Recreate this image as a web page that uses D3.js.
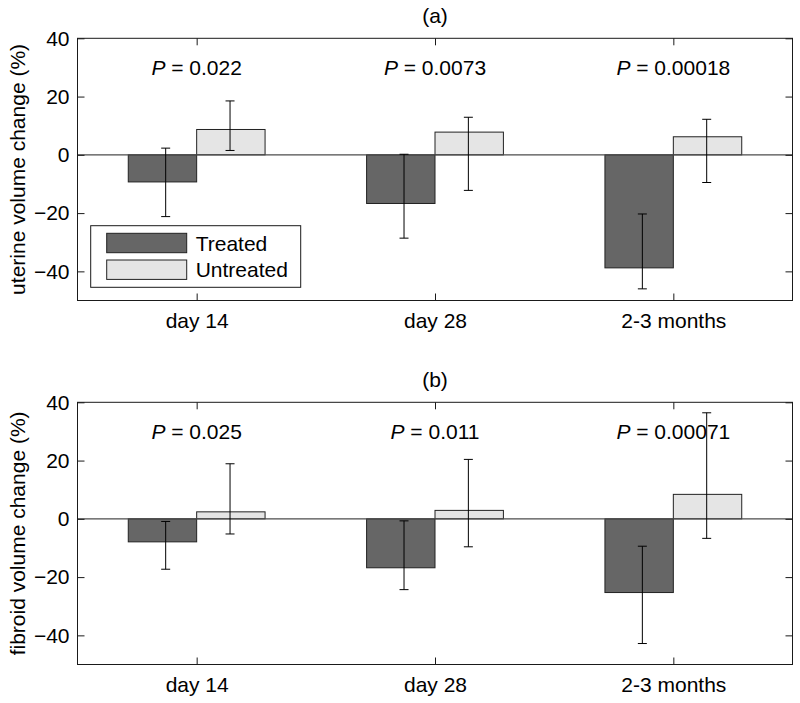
<!DOCTYPE html>
<html>
<head>
<meta charset="utf-8">
<script src="https://cdn.jsdelivr.net/npm/d3@7"></script>
<style>
  html, body { margin: 0; padding: 0; background: #fff; }
  svg { display: block; }
  text { font-family: "Liberation Sans", Arial, sans-serif; fill: #000; }
</style>
</head>
<body>
<svg id="chart" width="800" height="703"></svg>
<script>
// ---- data ----
const categories = ["day 14", "day 28", "2-3 months"];
const seriesNames = ["Treated", "Untreated"];
const yTicks = [-40, -20, 0, 20, 40];

// panel (a): uterine volume change (%)
const uterineTreated      = [-9.3, -16.7, -38.8];
const uterineTreatedLo    = [-21.2, -28.6, -46.0];
const uterineTreatedHi    = [2.3, 0.2, -20.3];
const uterineUntreated    = [8.7, 7.8, 6.2];
const uterineUntreatedLo  = [1.5, -12.2, -9.5];
const uterineUntreatedHi  = [18.5, 12.9, 12.2];
const uterinePValues      = ["0.022", "0.0073", "0.00018"];

// panel (b): fibroid volume change (%)
const fibroidTreated      = [-7.9, -16.8, -25.3];
const fibroidTreatedLo    = [-17.3, -24.3, -42.8];
const fibroidTreatedHi    = [-0.9, -0.7, -9.4];
const fibroidUntreated    = [2.4, 2.9, 8.4];
const fibroidUntreatedLo  = [-5.2, -9.6, -6.7];
const fibroidUntreatedHi  = [18.9, 20.4, 36.4];
const fibroidPValues      = ["0.025", "0.011", "0.00071"];

const panels = [
  { title: "(a)", ylabel: "uterine volume change (%)",
    treated: uterineTreated, tLo: uterineTreatedLo, tHi: uterineTreatedHi,
    untreated: uterineUntreated, uLo: uterineUntreatedLo, uHi: uterineUntreatedHi,
    p: uterinePValues, legend: true, top: 38.3, bottom: 300.5 },
  { title: "(b)", ylabel: "fibroid volume change (%)",
    treated: fibroidTreated, tLo: fibroidTreatedLo, tHi: fibroidTreatedHi,
    untreated: fibroidUntreated, uLo: fibroidUntreatedLo, uHi: fibroidUntreatedHi,
    p: fibroidPValues, legend: false, top: 402.3, bottom: 664.5 }
];

// ---- style ----
const colTreated = "#666666";
const colUntreated = "#e5e5e5";
const axisColor = "#1a1a1a";
const fontSize = 21;
const left = 77.5, right = 792.5;
const barW = 0.287;        // bar width in category units
const errOffT = -0.130, errOffU = 0.140;
const capHalf = 4.5;
const tickLen = 7;

const svg = d3.select("#chart");

const x = d3.scaleLinear().domain([0.5, 3.5]).range([left, right]);

panels.forEach(P => {
  const y = d3.scaleLinear().domain([-50, 40]).range([P.bottom, P.top]);
  const g = svg.append("g");

  // title
  g.append("text")
    .attr("x", (left + right) / 2).attr("y", P.top - 15)
    .attr("text-anchor", "middle").attr("font-size", fontSize)
    .text(P.title);

  const rows = categories.map((c, i) => ({
    i: i + 1,
    t: P.treated[i], tLo: P.tLo[i], tHi: P.tHi[i],
    u: P.untreated[i], uLo: P.uLo[i], uHi: P.uHi[i],
    p: P.p[i]
  }));

  // bars
  rows.forEach(r => {
    g.append("rect")
      .attr("x", x(r.i - barW)).attr("width", x(r.i) - x(r.i - barW))
      .attr("y", y(Math.max(0, r.t))).attr("height", Math.abs(y(r.t) - y(0)))
      .attr("fill", colTreated).attr("stroke", "#222").attr("stroke-width", 1);
    g.append("rect")
      .attr("x", x(r.i)).attr("width", x(r.i + barW) - x(r.i))
      .attr("y", y(Math.max(0, r.u))).attr("height", Math.abs(y(r.u) - y(0)))
      .attr("fill", colUntreated).attr("stroke", "#222").attr("stroke-width", 1);
  });

  // zero line
  g.append("line")
    .attr("x1", left).attr("x2", right).attr("y1", y(0)).attr("y2", y(0))
    .attr("stroke", "#4d4d4d").attr("stroke-width", 1.2);

  // error bars
  const errs = [];
  rows.forEach(r => {
    errs.push({ cx: r.i + errOffT, lo: r.tLo, hi: r.tHi });
    errs.push({ cx: r.i + errOffU, lo: r.uLo, hi: r.uHi });
  });
  errs.forEach(e => {
    const ex = x(e.cx);
    g.append("line").attr("x1", ex).attr("x2", ex).attr("y1", y(e.lo)).attr("y2", y(e.hi))
      .attr("stroke", "#000").attr("stroke-width", 1);
    [e.lo, e.hi].forEach(v => {
      g.append("line").attr("x1", ex - capHalf).attr("x2", ex + capHalf)
        .attr("y1", y(v)).attr("y2", y(v)).attr("stroke", "#000").attr("stroke-width", 1);
    });
  });

  // P-value labels at y = 30
  rows.forEach(r => {
    const t = g.append("text")
      .attr("x", x(r.i)).attr("y", y(30))
      .attr("text-anchor", "middle").attr("dominant-baseline", "central")
      .attr("font-size", fontSize);
    t.append("tspan").attr("font-style", "italic").text("P");
    t.append("tspan").text(" = " + r.p);
  });

  // frame
  g.append("rect")
    .attr("x", left).attr("y", P.top).attr("width", right - left).attr("height", P.bottom - P.top)
    .attr("fill", "none").attr("stroke", axisColor).attr("stroke-width", 1);

  // y axis (left) with inside ticks
  const yAxis = d3.axisLeft(y).tickValues(yTicks).tickSizeInner(-tickLen).tickSizeOuter(0).tickPadding(8);
  const ya = g.append("g").attr("transform", `translate(${left},0)`).call(yAxis);
  ya.select(".domain").remove();
  ya.selectAll("line").attr("stroke", axisColor);
  ya.selectAll("text").attr("font-size", fontSize).attr("font-family", "Liberation Sans, Arial, sans-serif").attr("fill", "#000");

  // y axis (right) mirror ticks
  const yAxisR = d3.axisRight(y).tickValues(yTicks).tickSizeInner(-tickLen).tickSizeOuter(0).tickFormat("");
  const yr = g.append("g").attr("transform", `translate(${right},0)`).call(yAxisR);
  yr.select(".domain").remove();
  yr.selectAll("line").attr("stroke", axisColor);

  // x axis (bottom)
  const xAxis = d3.axisBottom(x).tickValues([1, 2, 3]).tickFormat(d => categories[d - 1])
    .tickSizeInner(-tickLen).tickSizeOuter(0).tickPadding(13);
  const xa = g.append("g").attr("transform", `translate(0,${P.bottom})`).call(xAxis);
  xa.select(".domain").remove();
  xa.selectAll("line").attr("stroke", axisColor);
  xa.selectAll("text").attr("font-size", fontSize).attr("font-family", "Liberation Sans, Arial, sans-serif").attr("fill", "#000");

  // x axis (top) mirror ticks
  const xAxisT = d3.axisTop(x).tickValues([1, 2, 3]).tickFormat("").tickSizeInner(-tickLen).tickSizeOuter(0);
  const xt = g.append("g").attr("transform", `translate(0,${P.top})`).call(xAxisT);
  xt.select(".domain").remove();
  xt.selectAll("line").attr("stroke", axisColor);

  // y label
  g.append("text")
    .attr("transform", `translate(25,${(P.top + P.bottom) / 2}) rotate(-90)`)
    .attr("text-anchor", "middle").attr("font-size", fontSize)
    .text(P.ylabel);

  // legend
  if (P.legend) {
    const lx = 90.7, ly = 225.7, lw = 210, lh = 61.6;
    const lg = g.append("g");
    lg.append("rect").attr("x", lx).attr("y", ly).attr("width", lw).attr("height", lh)
      .attr("fill", "#fff").attr("stroke", axisColor).attr("stroke-width", 1);
    const cols = [colTreated, colUntreated];
    seriesNames.forEach((name, k) => {
      const cy = ly + 17.3 + k * 26.7;
      lg.append("rect").attr("x", lx + 16).attr("y", cy - 9.7).attr("width", 80).attr("height", 19.4)
        .attr("fill", cols[k]).attr("stroke", "#222").attr("stroke-width", 1);
      lg.append("text").attr("x", lx + 105).attr("y", cy)
        .attr("dominant-baseline", "central").attr("font-size", fontSize)
        .text(name);
    });
  }
});
</script>
</body>
</html>
